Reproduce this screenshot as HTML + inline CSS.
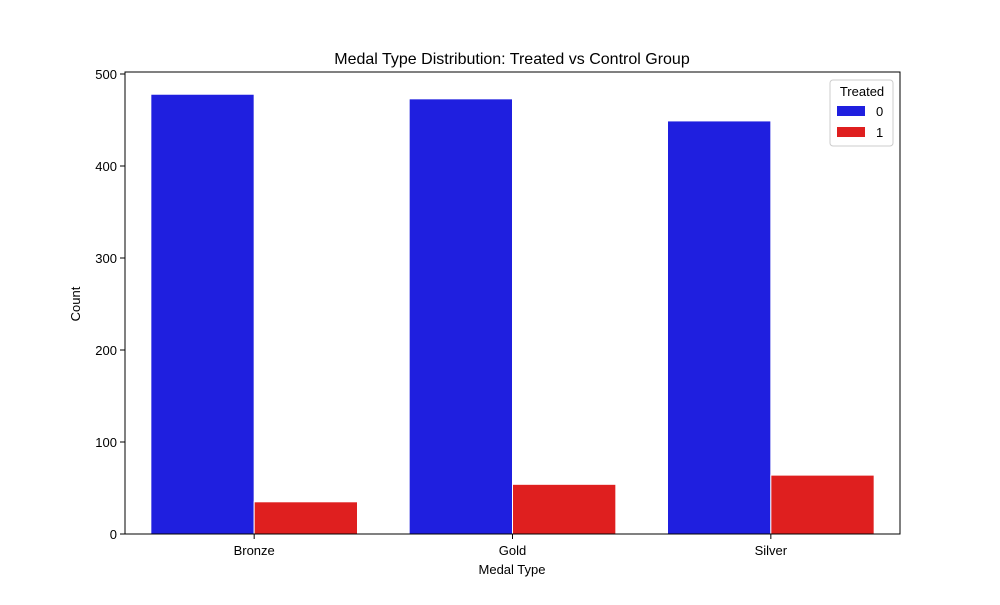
<!DOCTYPE html>
<html><head><meta charset="utf-8"><style>
body{margin:0;background:#fff;}
svg text{font-family:"Liberation Sans","DejaVu Sans",sans-serif;fill:#000;}
</style></head><body>
<svg id="chart" width="1000" height="600" xmlns="http://www.w3.org/2000/svg">
<rect width="1000" height="600" fill="#fff"/>
<text x="512" y="64" font-size="16" text-anchor="middle">Medal Type Distribution: Treated vs Control Group</text>
<g id="bars"></g>
<g id="axes"></g>
<text x="512" y="574" font-size="13" text-anchor="middle">Medal Type</text>
<text x="80" y="304" font-size="13" text-anchor="middle" transform="rotate(-90 80 304)">Count</text>
<g>
<rect x="830" y="80" width="63" height="66" rx="3" fill="#fff" stroke="#ccc"/>
<text x="862" y="96" font-size="13" text-anchor="middle">Treated</text>
<rect x="837" y="106" width="28" height="10" fill="#1f1fdf"/>
<text x="876" y="116" font-size="13">0</text>
<rect x="837" y="127" width="28" height="10" fill="#df1f1f"/>
<text x="876" y="137" font-size="13">1</text>
</g>
</svg>
<script>
const categories = ["Bronze","Gold","Silver"];
const control = [478,473,449];
const treated = [35,54,64];
const yTicks = [0,100,200,300,400,500];
const NS="http://www.w3.org/2000/svg";
const L=125,R=900,T=72,B=534;
const band=(R-L)/categories.length;
const y=v=>B-v*0.92;
const xc=i=>L+band*(i+0.5);
const bars=document.getElementById('bars'), axes=document.getElementById('axes');
function mk(tag,attrs,parent){const e=document.createElementNS(NS,tag);for(const k in attrs)e.setAttribute(k,attrs[k]);parent.appendChild(e);return e;}
const bw=band*0.4;
categories.forEach((c,i)=>{
  const b0=mk('rect',{x:xc(i)-bw,y:y(control[i]),width:bw,height:B-y(control[i]),fill:'#1f1fdf',stroke:'#fff','stroke-width':1},bars);
  
  
  const b1=mk('rect',{x:xc(i),y:y(treated[i]),width:bw,height:B-y(treated[i]),fill:'#df1f1f',stroke:'#fff','stroke-width':1},bars);
  
  
  mk('line',{x1:xc(i),x2:xc(i),y1:B,y2:B+5,stroke:'#000'},axes);
  const t=mk('text',{x:xc(i),y:B+21,'font-size':13,'text-anchor':'middle'},axes);
  t.textContent=c;
  
  
});
yTicks.forEach(v=>{
  mk('line',{x1:L-5,x2:L,y1:y(v),y2:y(v),stroke:'#000'},axes);
  const t=mk('text',{x:L-8,y:y(v)+5,'font-size':13,'text-anchor':'end'},axes);
  t.textContent=v;
  
  
});
const f=mk('rect',{x:L,y:T,width:R-L,height:B-T,fill:'none',stroke:'#000','stroke-width':1},axes);


</script>
</body></html>
